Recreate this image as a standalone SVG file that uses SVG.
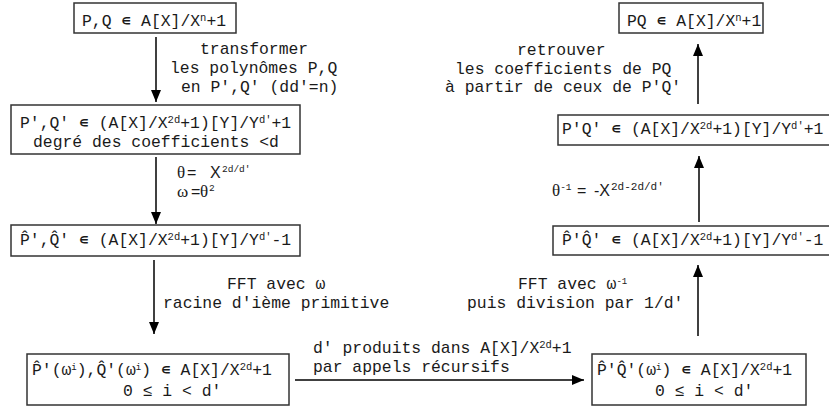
<svg xmlns="http://www.w3.org/2000/svg" width="829" height="411" viewBox="0 0 829 411">
  <defs>
    <marker id="arrow" viewBox="0 0 12 10" refX="12" refY="5" markerWidth="12" markerHeight="10" markerUnits="userSpaceOnUse" orient="auto">
      <path d="M0,0 L12,5 L0,10 Z" fill="#000"/>
    </marker>
  </defs>
  <style>
    .box { fill: #fff; stroke: #333; stroke-width: 1.5; }
    .t { font-family: "Liberation Mono", "DejaVu Sans Mono", monospace; font-size: 16.4px; fill: #1a1a1a; }
    .el { font-family: "DejaVu Sans Mono", "Liberation Mono", monospace; }
    .sup { font-family: "Liberation Mono", "DejaVu Sans Mono", monospace; font-size: 10.5px; }
    .supi { font-family: "Liberation Mono", "DejaVu Sans Mono", monospace; font-size: 9px; }
    .supl { font-family: "Liberation Mono", "DejaVu Sans Mono", monospace; font-size: 9.5px; fill: #1a1a1a; }
    .greek { font-family: "Liberation Serif", "DejaVu Serif", serif; font-size: 17px; fill: #1a1a1a; }
    .sans { font-family: "Liberation Sans", "DejaVu Sans", sans-serif; font-size: 16px; fill: #1a1a1a; }
    .conn { stroke: #000; stroke-width: 1.5; fill: none; marker-end: url(#arrow); }
  </style>
  <rect width="829" height="411" fill="#fff"/>

  <!-- left column -->
  <g id="pq-start">
    <rect class="box" x="74" y="3" width="162" height="30"/>
    <text class="t" x="82" y="26">P,Q <tspan class="el">∊</tspan> A[X]/X<tspan class="sup" dy="-5">n</tspan><tspan dy="5">+1</tspan></text>
  </g>
  <g id="pq-prime">
    <rect class="box" x="11" y="105" width="289" height="49"/>
    <text class="t" x="20" y="128">P',Q' <tspan class="el">∊</tspan> (A[X]/X<tspan class="sup" dy="-5">2d</tspan><tspan dy="5">+1)[Y]/Y</tspan><tspan class="sup" dy="-5">d'</tspan><tspan dy="5">+1</tspan></text>
    <text class="t" x="33" y="147">degré des coefficients &lt;d</text>
  </g>
  <g id="pq-hat">
    <rect class="box" x="11" y="225" width="289" height="31"/>
    <text class="t" x="20" y="245">P̂',Q̂' <tspan class="el">∊</tspan> (A[X]/X<tspan class="sup" dy="-5">2d</tspan><tspan dy="5">+1)[Y]/Y</tspan><tspan class="sup" dy="-5">d'</tspan><tspan dy="5">-1</tspan></text>
  </g>
  <g id="pq-eval">
    <rect class="box" x="27" y="354" width="262" height="51"/>
    <text class="t" x="32" y="375">P̂'(ω<tspan class="supi" dy="-5">i</tspan><tspan dy="5">),Q̂'(ω</tspan><tspan class="supi" dy="-5">i</tspan><tspan dy="5">) </tspan><tspan class="el">∊</tspan> A[X]/X<tspan class="sup" dy="-5">2d</tspan><tspan dy="5">+1</tspan></text>
    <text class="t" x="123" y="396">0 ≤ i &lt; d'</text>
  </g>

  <!-- right column -->
  <g id="prod-eval">
    <rect class="box" x="592" y="354" width="214" height="51"/>
    <text class="t" x="597" y="375">P̂'Q̂'(ω<tspan class="supi" dy="-5">i</tspan><tspan dy="5">) </tspan><tspan class="el">∊</tspan> A[X]/X<tspan class="sup" dy="-5">2d</tspan><tspan dy="5">+1</tspan></text>
    <text class="t" x="655" y="396">0 ≤ i &lt; d'</text>
  </g>
  <g id="prod-hat">
    <rect class="box" x="553" y="226" width="290" height="29"/>
    <text class="t" x="562" y="245">P̂'Q̂' <tspan class="el">∊</tspan> (A[X]/X<tspan class="sup" dy="-5">2d</tspan><tspan dy="5">+1)[Y]/Y</tspan><tspan class="sup" dy="-5">d'</tspan><tspan dy="5">-1</tspan></text>
  </g>
  <g id="prod-prime">
    <rect class="box" x="558" y="115" width="290" height="30"/>
    <text class="t" x="562" y="134">P'Q' <tspan class="el">∊</tspan> (A[X]/X<tspan class="sup" dy="-5">2d</tspan><tspan dy="5">+1)[Y]/Y</tspan><tspan class="sup" dy="-5">d'</tspan><tspan dy="5">+1</tspan></text>
  </g>
  <g id="prod-result">
    <rect class="box" x="619" y="3" width="144" height="30"/>
    <text class="t" x="627" y="26">PQ <tspan class="el">∊</tspan> A[X]/X<tspan class="sup" dy="-5">n</tspan><tspan dy="5">+1</tspan></text>
  </g>

  <!-- connectors -->
  <g id="connectors">
    <line class="conn" x1="156" y1="37" x2="156" y2="102"/>
    <line class="conn" x1="156" y1="157" x2="156" y2="224"/>
    <line class="conn" x1="154" y1="260" x2="154" y2="334"/>
    <line class="conn" x1="295" y1="380" x2="584" y2="380"/>
    <line class="conn" x1="698" y1="336" x2="698" y2="265"/>
    <line class="conn" x1="699" y1="222" x2="699" y2="156"/>
    <line class="conn" x1="698" y1="104" x2="698" y2="44"/>
  </g>

  <!-- connector labels -->
  <g id="labels">
    <text class="t" x="200" y="54">transformer</text>
    <text class="t" x="170" y="73">les polynômes P,Q</text>
    <text class="t" x="181" y="92">en P',Q' (dd'=n)</text>

    <text y="178"><tspan class="greek" x="177">θ</tspan><tspan class="sans" x="187">=</tspan><tspan class="sans" x="210">X</tspan><tspan class="supl" x="222" dy="-6">2d/d'</tspan></text>
    <text y="197"><tspan class="greek" x="177">ω</tspan><tspan class="sans" x="191">=</tspan><tspan class="greek" x="200">θ</tspan><tspan class="supl" x="209" dy="-6">2</tspan></text>

    <text class="t" x="227" y="289">FFT avec ω</text>
    <text class="t" x="163" y="308">racine d'ième primitive</text>

    <text class="t" x="313" y="353">d' produits dans A[X]/X<tspan class="sup" dy="-5">2d</tspan><tspan dy="5">+1</tspan></text>
    <text class="t" x="313" y="372">par appels récursifs</text>

    <text class="t" x="518" y="289">FFT avec ω<tspan class="supi" dy="-5">-1</tspan></text>
    <text class="t" x="467" y="308">puis division par 1/d'</text>

    <text y="196"><tspan class="greek" x="552">θ</tspan><tspan class="supl" dy="-6">-1</tspan><tspan class="sans" x="577" dy="6">=</tspan><tspan class="sans" x="594">-X</tspan><tspan class="supl" x="611" dy="-6" style="font-size:11px">2d-2d/d'</tspan></text>

    <text class="t" x="517" y="55">retrouver</text>
    <text class="t" x="455" y="74">les coefficients de PQ</text>
    <text class="t" x="445" y="92">à partir de ceux de P'Q'</text>
  </g>
</svg>
